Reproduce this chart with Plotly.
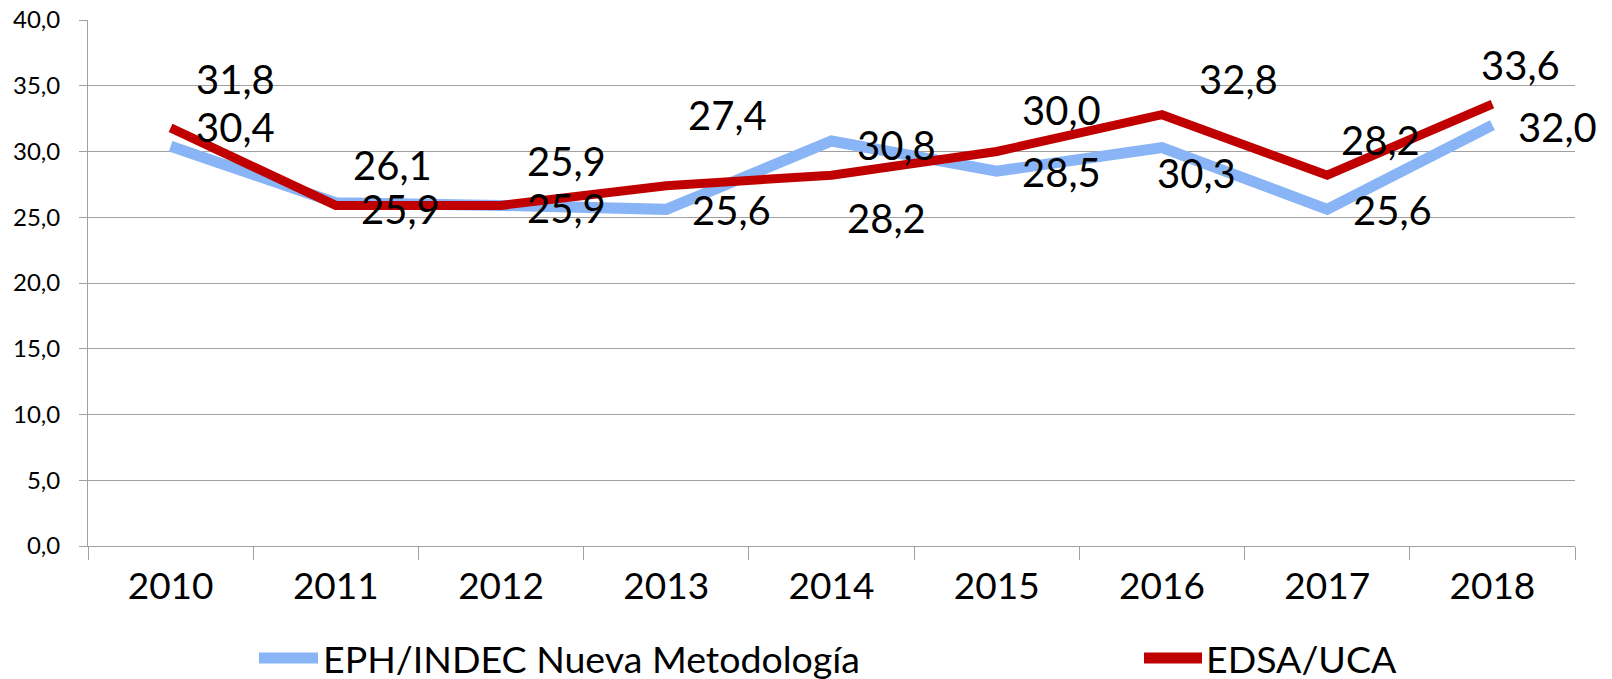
import plotly.graph_objects as go

# ---- data ----
years = ["2010", "2011", "2012", "2013", "2014", "2015", "2016", "2017", "2018"]
eph_name = "EPH/INDEC Nueva Metodología"
eph_values = [30.4, 26.1, 25.9, 25.6, 30.8, 28.5, 30.3, 25.6, 32.0]
edsa_name = "EDSA/UCA"
edsa_values = [31.8, 25.9, 25.9, 27.4, 28.2, 30.0, 32.8, 28.2, 33.6]
y_ticks = [0, 5, 10, 15, 20, 25, 30, 35, 40]

# ---- styling / label placement (pixel offsets: dx right, dy down) ----
eph_color = "#89B4F5"
edsa_color = "#C00000"
grid_color = "#A0A0A0"
FONT = "Lato, Carlito, Calibri, sans-serif"
eph_offsets = [(65, -19), (57, -38), (65, 3), (65, 1), (65, 4), (65, 1), (35, 25), (65, 1), (65, 2)]
edsa_offsets = [(65, -49), (65, 4), (65, -44), (61, -71), (55, 43), (65, -42), (77, -36), (53, -35), (28, -39)]

W, H = 1612, 679
L, R, T, B = 88, 37, 20, 133
pw, ph = W - L - R, H - T - B


def fmt(v):
    return f"{v:.1f}".replace(".", ",")


fig = go.Figure()
fig.add_trace(go.Scatter(x=years, y=eph_values, mode="lines", name=eph_name,
                         line=dict(color=eph_color, width=11), showlegend=False,
                         hoverinfo="skip"))
fig.add_trace(go.Scatter(x=years, y=edsa_values, mode="lines", name=edsa_name,
                         line=dict(color=edsa_color, width=9), showlegend=False,
                         hoverinfo="skip"))

annotations = []
for vals, offs in ((eph_values, eph_offsets), (edsa_values, edsa_offsets)):
    for i, (v, (dx, dy)) in enumerate(zip(vals, offs)):
        annotations.append(dict(x=i, y=v, xref="x", yref="y", text=fmt(v),
                                showarrow=False, xshift=dx, yshift=-dy,
                                font=dict(family=FONT, size=40, color="black")))


def px_x(p):
    return (p - L) / pw


def px_y(p):
    return (H - B - p) / ph


legend_y = 658
shapes = []
for name, color, width, x0, x1, tx in ((eph_name, eph_color, 11, 259, 318, 321),
                                        (edsa_name, edsa_color, 11, 1144, 1202, 1204)):
    shapes.append(dict(type="line", xref="paper", yref="paper",
                       x0=px_x(x0), x1=px_x(x1), y0=px_y(legend_y), y1=px_y(legend_y),
                       line=dict(color=color, width=width)))
    annotations.append(dict(x=px_x(tx), y=px_y(legend_y), xref="paper", yref="paper",
                            text=name, showarrow=False, xanchor="left", yanchor="middle",
                            font=dict(family=FONT, size=37.5, color="black")))

fig.update_layout(
    width=W, height=H, autosize=False,
    margin=dict(l=L, r=R, t=T, b=B, pad=0),
    paper_bgcolor="white", plot_bgcolor="white",
    separators=",.",
    annotations=annotations, shapes=shapes,
    font=dict(family=FONT, color="black"),
)
fig.update_xaxes(type="category", categoryorder="array", categoryarray=years,
                 range=[-0.5, len(years) - 0.5], autorange=False, automargin=False,
                 showgrid=False, showline=True, linecolor=grid_color, linewidth=1,
                 ticks="outside", tickson="boundaries", ticklen=13, tickcolor=grid_color,
                 tickwidth=1, tickangle=0, tickfont=dict(family=FONT, size=37, color="black"),
                 ticklabelstandoff=8, zeroline=False)
fig.update_yaxes(range=[0, 40], autorange=False, automargin=False,
                 tickvals=y_ticks, tickformat=".1f",
                 showgrid=True, gridcolor=grid_color, gridwidth=1,
                 showline=True, linecolor=grid_color, linewidth=1,
                 ticks="outside", ticklen=8, tickcolor=grid_color, tickwidth=1,
                 tickfont=dict(family=FONT, size=24, color="black"),
                 ticklabelstandoff=14, zeroline=False)

fig.write_html("out.html", config={"displayModeBar": False, "staticPlot": True},
               post_script="document.body.style.margin='0';document.body.style.overflow='hidden';")
